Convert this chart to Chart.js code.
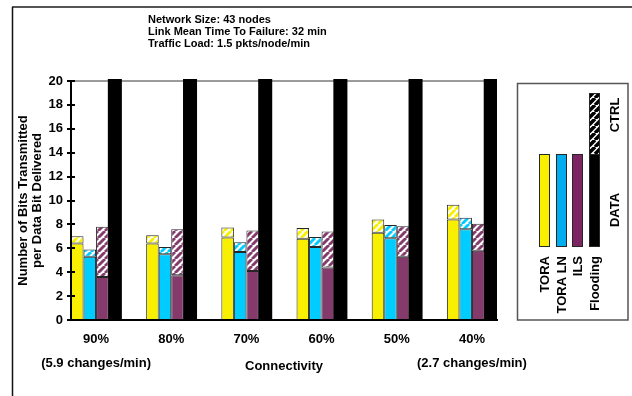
<!DOCTYPE html>
<html>
<head>
<meta charset="utf-8">
<script src="https://cdn.jsdelivr.net/npm/chart.js@4.4.1/dist/chart.umd.min.js"></script>
<style>
  html, body { margin: 0; padding: 0; background: #fff; }
  canvas { display: block; }
</style>
</head>
<body>
<canvas id="chart" width="632" height="396"></canvas>
<script>
// Connectivity levels (x categories) and the topology change rates at both ends
const connectivity = ['90%', '80%', '70%', '60%', '50%', '40%'];
const changeRates = ['(5.9 changes/min)', '', '', '', '', '(2.7 changes/min)'];
const yTickValues = [0, 2, 4, 6, 8, 10, 12, 14, 16, 18, 20];

// Bits transmitted per data bit delivered, split into DATA and CTRL overhead
const toraData   = [6.4, 6.4, 6.9, 6.8, 7.3, 8.4];
const toraCtrl   = [0.6, 0.7, 0.85, 0.9, 1.1, 1.25];
const toraLnData = [5.3, 5.5, 5.7, 6.1, 6.85, 7.6];
const toraLnCtrl = [0.6, 0.6, 0.8, 0.85, 1.1, 0.95];
const ilsData    = [3.6, 3.75, 4.1, 4.4, 5.3, 5.8];
const ilsCtrl    = [4.2, 3.85, 3.4, 3.0, 2.55, 2.25];
// Flooding runs off the top of the 0-20 axis at every connectivity level
const floodingData = [25, 25, 25, 25, 25, 25];

const headerLines = [
  'Network Size: 43 nodes',
  'Link Mean Time To Failure: 32 min',
  'Traffic Load: 1.5 pkts/node/min'
];
const seriesNames = ['TORA', 'TORA LN', 'ILS', 'Flooding'];

const FONT = '"Liberation Sans", Arial, Helvetica, sans-serif';
Chart.defaults.font.family = FONT;
Chart.defaults.font.weight = 'bold';
Chart.defaults.color = '#000';

const canvas = document.getElementById('chart');
const ctx = canvas.getContext('2d');

const YELLOW = '#F8F000';
const CYAN = '#00CCFF';
const PURPLE = '#843B6C';
const EDGE = '#262626';

// diagonal stripe fill used for the CTRL part of each bar
function hatch(color, size = 7, width = 2.9) {
  const t = document.createElement('canvas');
  t.width = t.height = size;
  const g = t.getContext('2d');
  g.fillStyle = '#fff';
  g.fillRect(0, 0, size, size);
  g.strokeStyle = color;
  g.lineWidth = width;
  g.beginPath();
  for (const k of [-size, 0, size]) {
    g.moveTo(k, size);
    g.lineTo(k + size, 0);
  }
  g.stroke();
  return ctx.createPattern(t, 'repeat');
}

function bar(label, data, stack, fill, extra = {}) {
  return Object.assign({
    label, data, stack,
    backgroundColor: fill,
    borderColor: EDGE,
    borderWidth: 1,
    borderSkipped: false,
    categoryPercentage: 2 / 3,
    barPercentage: 1
  }, extra);
}

const datasets = [
  bar('TORA DATA', toraData, 'tora', YELLOW),
  bar('TORA CTRL', toraCtrl, 'tora', hatch(YELLOW)),
  bar('TORA LN DATA', toraLnData, 'toraln', CYAN),
  bar('TORA LN CTRL', toraLnCtrl, 'toraln', hatch(CYAN)),
  bar('ILS DATA', ilsData, 'ils', PURPLE),
  bar('ILS CTRL', ilsCtrl, 'ils', hatch(PURPLE)),
  bar('Flooding DATA', floodingData, 'flooding', '#000', {
    borderWidth: 0, barPercentage: 1.12,
    clip: { left: 0, top: 2, right: 0, bottom: 0 }
  })
];

// frame, header, top rule, tick crosses and the DATA/CTRL key
const decor = {
  id: 'decor',
  beforeDatasetsDraw(chart) {
    const { ctx: c, chartArea: a } = chart;
    c.save();
    c.strokeStyle = '#7a7a7a';
    c.lineWidth = 1.5;
    c.beginPath();
    c.moveTo(a.left, a.top);
    c.lineTo(a.right, a.top);
    c.stroke();
    c.restore();
  },
  afterDatasetsDraw(chart) {
    const { ctx: c, chartArea: a } = chart;
    const y = chart.scales.y;
    c.save();
    c.strokeStyle = '#000';
    c.lineWidth = 2;
    c.beginPath();
    for (const t of y.ticks) {
      const py = Math.round(y.getPixelForValue(t.value));
      c.moveTo(a.left - 4, py);
      c.lineTo(a.left + 4, py);
    }
    c.stroke();
    c.restore();
  },
  afterDraw(chart) {
    const c = chart.ctx;
    c.save();
    // outer frame
    c.strokeStyle = '#555';
    c.lineWidth = 2;
    c.beginPath();
    c.moveTo(12, 7);
    c.lineTo(632, 7);
    c.stroke();
    c.strokeStyle = '#111';
    c.lineWidth = 1.5;
    c.beginPath();
    c.moveTo(12.5, 7);
    c.lineTo(12.5, 396);
    c.stroke();

    // header
    c.fillStyle = '#000';
    c.font = 'bold 11px ' + FONT;
    c.textAlign = 'left';
    c.textBaseline = 'alphabetic';
    headerLines.forEach((s, i) => c.fillText(s, 148, 23 + i * 11.8));

    // key panel
    c.strokeStyle = '#555';
    c.lineWidth = 1.5;
    c.strokeRect(517.5, 83.5, 110.5, 236.5);

    const keyFills = [YELLOW, '#00AEEF', '#7D2562', '#000'];
    const xs = [539, 556, 572, 589];
    const w = 11, top = 154, bottom = 247;
    c.lineWidth = 1;
    c.strokeStyle = EDGE;
    xs.forEach((x, i) => {
      c.fillStyle = keyFills[i];
      c.fillRect(x, top, w, bottom - top);
      c.strokeRect(x + 0.5, top + 0.5, w - 1, bottom - top - 1);
    });
    c.fillStyle = hatch('#000', 7, 3.6);
    c.fillRect(589, 93, w, top - 93);
    c.strokeRect(589.5, 93.5, w - 1, top - 93);

    c.fillStyle = '#000';
    c.font = 'bold 13px ' + FONT;
    c.textBaseline = 'middle';
    xs.forEach((x, i) => {
      c.save();
      c.translate(x + w / 2 + 1, 256);
      c.rotate(-Math.PI / 2);
      c.textAlign = 'right';
      c.fillText(seriesNames[i], 0, 0);
      c.restore();
    });
    [['DATA', 210], ['CTRL', 115]].forEach(([s, yc]) => {
      c.save();
      c.translate(615, yc);
      c.rotate(-Math.PI / 2);
      c.textAlign = 'center';
      c.fillText(s, 0, 0);
      c.restore();
    });
    c.restore();
  }
};

new Chart(ctx, {
  type: 'bar',
  data: {
    labels: connectivity.map((_, i) => i),
    datasets
  },
  options: {
    responsive: false,
    animation: false,
    layout: { padding: { top: 81, right: 135, left: 0, bottom: 0 } },
    plugins: {
      legend: { display: false },
      title: { display: false },
      tooltip: { enabled: false }
    },
    scales: {
      x: {
        type: 'linear',
        stacked: true,
        offset: false,
        bounds: 'data',
        min: -1 / 3,
        max: connectivity.length - 1 + 1 / 3,
        afterBuildTicks: s => { s.ticks = connectivity.map((_, i) => ({ value: i })); },
        grid: { display: false, drawTicks: false, offset: false },
        border: { display: true, color: '#000', width: 2, z: 1 },
        ticks: {
          autoSkip: false, maxRotation: 0, minRotation: 0, padding: 8,
          font: { size: 13, weight: 'bold', lineHeight: 1.8 },
          callback: (v, i) => [connectivity[i], changeRates[i]]
        },
        title: {
          display: true, text: 'Connectivity',
          font: { size: 13, weight: 'bold' },
          padding: { top: 0, bottom: 22 }
        },
        afterFit: s => { s.height = 76; }
      },
      y: {
        stacked: true,
        min: 0,
        max: 20,
        afterBuildTicks: s => { s.ticks = yTickValues.map(v => ({ value: v })); },
        grid: { display: false, drawTicks: false },
        border: { display: true, color: '#000', width: 2, z: 1 },
        ticks: { padding: 8, font: { size: 13, weight: 'bold' } },
        title: {
          display: true,
          text: ['Number of Bits Transmitted', 'per Data Bit Delivered'],
          font: { size: 13, weight: 'bold', lineHeight: 14 / 13 },
          padding: { top: 16, bottom: 0 }
        },
        afterFit: s => { s.width = 71; }
      }
    }
  },
  plugins: [decor]
});
</script>
</body>
</html>
